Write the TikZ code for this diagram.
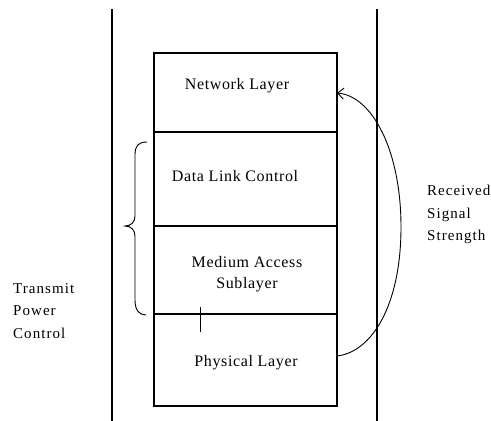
\documentclass[tikz,border=0pt]{standalone}
\usepackage{fontspec}
\setmainfont{Liberation Serif}
\newfontfamily\mainlbl[LetterSpace=4]{Liberation Serif}
\newfontfamily\sidelbl[LetterSpace=7]{Liberation Serif}
\usetikzlibrary{arrows.meta}
\begin{document}
\begin{tikzpicture}[x=1pt,y=-1pt,
  layerbox/.style={draw,line width=1.2pt,minimum width=183pt,inner sep=0pt,outer sep=0pt},
  lbl/.style={font=\mainlbl\fontsize{16}{21.5}\selectfont,inner sep=0pt,align=center},
  side/.style={font=\sidelbl\fontsize{15}{22.5}\selectfont,inner sep=0pt,align=left,anchor=north west},
  wall/.style={line width=1.2pt},
  thin/.style={line width=0.9pt}]
\useasboundingbox (0,0) rectangle (491,421);
% walls
\coordinate (lt) at (112,9); \coordinate (lb) at (112,421);
\coordinate (rt) at (377,9); \coordinate (rb) at (377,421);
\draw[wall] (lt) -- (lb);
\draw[wall] (rt) -- (rb);
% layers
\node[layerbox,minimum height=79pt] (net) at (245.5,92.5) {};
\node[layerbox,minimum height=94pt] (dlc) at (245.5,179) {};
\node[layerbox,minimum height=88pt] (mac) at (245.5,270) {};
\node[layerbox,minimum height=92pt] (phy) at (245.5,360) {};
\node[lbl] (netl) at (237,86) {Network Layer};
\node[lbl] (dlcl) at (235,176) {Data Link Control};
\node[lbl] (macl) at (247,274) {Medium Access\\Sublayer};
\node[lbl] (phyl) at (246,363) {Physical Layer};
% brace
\coordinate (bt) at (147,142);
\coordinate (bm) at (125,226);
\coordinate (bb) at (146,315);
\draw[thin] (bt) .. controls (138,142) and (135,146) .. (135,155)
  -- (135,216) .. controls (135,222) and (131,226) .. (bm)
  .. controls (131,226) and (135,230) .. (135,236)
  -- (135,300) .. controls (135,310) and (139,315) .. (bb);
% tick
\coordinate (tk1) at (200,307); \coordinate (tk2) at (200,332);
\draw[thin] (tk1) -- (tk2);
% received signal strength arrow
\coordinate (cs) at (phy.east |- 0,356);
\coordinate (ce) at (net.east |- 0,93);
\coordinate (cm) at (401,227);
\draw[thin,-{Straight Barb[length=6pt,width=11pt]}] (cs) .. controls (372,352) and (401,305) .. (cm)
  .. controls (401,150) and (372,96) .. (ce);
% side labels
\node[side] (rss) at (427,185) {Received\\Signal\\Strength};
\node[side] (tpc) at (13,283) {Transmit\\Power\\Control};
\end{tikzpicture}
\end{document}
